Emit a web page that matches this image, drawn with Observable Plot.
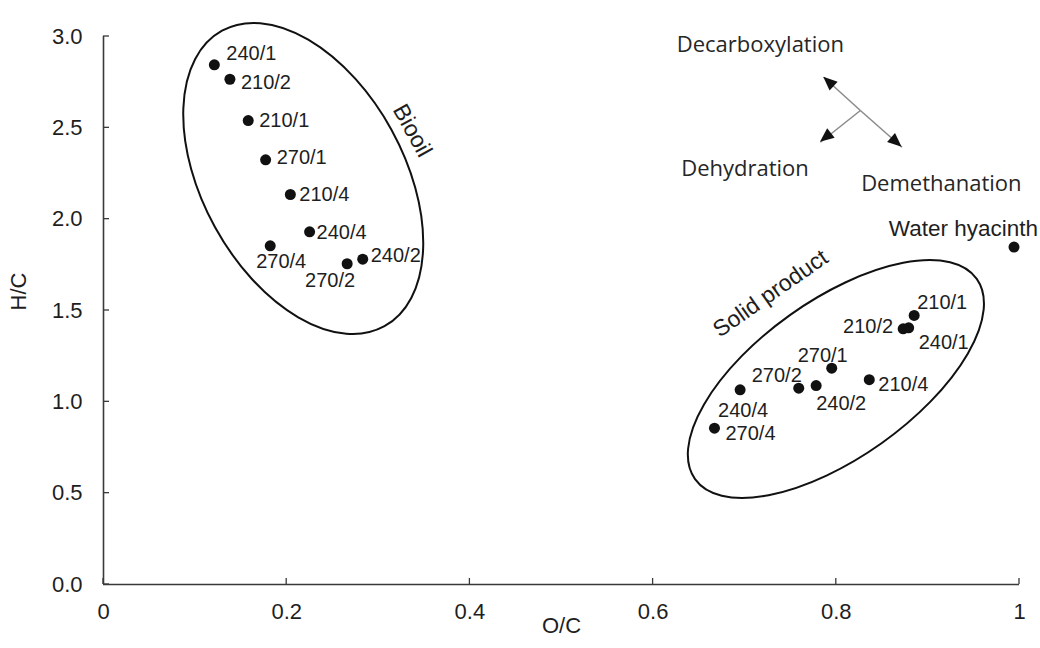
<!DOCTYPE html>
<html><head><meta charset="utf-8">
<script src="https://cdn.jsdelivr.net/npm/d3@7"></script>
<script src="https://cdn.jsdelivr.net/npm/@observablehq/plot@0.6"></script>
<style>body{margin:0;background:#fff} #chart svg{display:block}</style>
</head><body><div id="chart"></div>
<script>
// ---------------- data ----------------
const biooilLabels = ["240/1","210/2","210/1","270/1","210/4","240/4","270/4","270/2","240/2"];
const biooilOC = [0.121,0.138,0.158,0.177,0.204,0.225,0.182,0.266,0.283];
const biooilHC = [2.845,2.766,2.540,2.325,2.135,1.931,1.854,1.756,1.781];

const solidLabels = ["210/1","210/2","240/1","270/1","270/2","240/2","210/4","240/4","270/4"];
const solidOC = [0.885,0.873,0.879,0.795,0.759,0.778,0.836,0.695,0.667];
const solidHC = [1.473,1.400,1.405,1.184,1.075,1.089,1.121,1.066,0.856];

const feedLabels = ["Water hyacinth"];
const feedOC = [0.994];
const feedHC = [1.847];

const xTicks = [0,0.2,0.4,0.6,0.8,1];
const xTickLabels = ["0","0.2","0.4","0.6","0.8","1"];
const yTicks = [0,0.5,1,1.5,2,2.5,3];
const yTickLabels = ["0.0","0.5","1.0","1.5","2.0","2.5","3.0"];
const xTitle = "O/C";
const yTitle = "H/C";

const groupNames = ["Biooil","Solid product"];
const groupCenterOC = [0.2186, 0.8001];
const groupCenterHC = [2.220, 1.122];

const pathwayNames = ["Decarboxylation","Demethanation","Dehydration"];
const pathwayOriginOC = 0.8263, pathwayOriginHC = 2.595;
const pathwayTipOC = [0.7863, 0.8718, 0.7827];
const pathwayTipHC = [2.777, 2.394, 2.421];

// ---------------- layout / styling ----------------
const groupLabelAt = {"Biooil": {x: 0.3372, y: 2.485}, "Solid product": {x: 0.7281, y: 1.593}};
const groupShape = {"Biooil": {rx: 168.6, ry: 100.8, rot: 61.2}, "Solid product": {rx: 172.8, ry: 78.8, rot: -35.4}};
const pathwayLabelAt = {"Decarboxylation": {x: 0.7171, y: 2.951}, "Demethanation": {x: 0.9147, y: 2.195}, "Dehydration": {x: 0.7003, y: 2.277}};
const nudge = {
  "b240/1": [12,-11,"start"], "b210/2": [11,3,"start"], "b210/1": [11,0,"start"], "b270/1": [11,-2,"start"],
  "b210/4": [9,0,"start"], "b240/4": [7,1,"start"], "b270/4": [11,16,"middle"], "b270/2": [-17,17,"middle"],
  "b240/2": [8,-4,"start"],
  "s210/1": [3,-13,"start"], "s210/2": [-10,-2,"end"], "s240/1": [10,15,"start"], "s270/1": [-9,-13,"middle"],
  "s270/2": [-22,-13,"middle"], "s240/2": [0,18,"start"], "s210/4": [9,5,"start"], "s240/4": [-22,21,"start"],
  "s270/4": [11,5,"start"], "fWater hyacinth": [24,-18,"end"]
};

const biooil = biooilLabels.map((l,i) => ({key: "b"+l, label: l, x: biooilOC[i], y: biooilHC[i]}));
const solid = solidLabels.map((l,i) => ({key: "s"+l, label: l, x: solidOC[i], y: solidHC[i]}));
const feed = feedLabels.map((l,i) => ({key: "f"+l, label: l, x: feedOC[i], y: feedHC[i]}));
const points = [...biooil, ...solid, ...feed];
const groups = groupNames.map((n,i) => ({name: n, x: groupCenterOC[i], y: groupCenterHC[i]}));
const pathways = pathwayNames.map((n,i) => ({name: n, x1: pathwayOriginOC, y1: pathwayOriginHC, x2: pathwayTipOC[i], y2: pathwayTipHC[i]}));

const AXIS = "#3a3a3a";
const TEXT = "#1e1e1e";

const labelMarks = points.map(d => {
  const [dx, dy, anchor] = nudge[d.key];
  return Plot.text([d], {x: "x", y: "y", text: "label", dx, dy, textAnchor: anchor, fontSize: d.key[0] === "f" ? 22.5 : 20, fill: TEXT});
});

// custom marks using Plot's scales
const ellipseMark = (index, scales) => {
  const g = d3.create("svg:g");
  for (const d of groups) {
    const s = groupShape[d.name];
    const cx = scales.x(d.x), cy = scales.y(d.y);
    g.append("ellipse").attr("cx", cx).attr("cy", cy).attr("rx", s.rx).attr("ry", s.ry)
      .attr("transform", `rotate(${s.rot},${cx},${cy})`)
      .attr("fill", "none").attr("stroke", "#111").attr("stroke-width", 2);
  }
  return g.node();
};
const headMark = (index, scales) => {
  const g = d3.create("svg:g");
  const L = 14, W = 12;
  for (const d of pathways) {
    const ox = scales.x(d.x1), oy = scales.y(d.y1), tx = scales.x(d.x2), ty = scales.y(d.y2);
    const len = Math.hypot(tx - ox, ty - oy), ux = (tx - ox) / len, uy = (ty - oy) / len;
    const bx = tx - ux * L, by = ty - uy * L, nx = -uy, ny = ux;
    g.append("path").attr("d", `M${tx},${ty}L${bx + nx*W/2},${by + ny*W/2}L${bx - nx*W/2},${by - ny*W/2}Z`).attr("fill", "#111");
  }
  return g.node();
};
const tickMark = (index, scales) => {
  const g = d3.create("svg:g").attr("stroke", AXIS).attr("stroke-width", 1.3);
  const x0 = scales.x(0), y0 = scales.y(0);
  for (const t of yTicks) g.append("line").attr("x1", x0).attr("x2", x0 + 6).attr("y1", scales.y(t)).attr("y2", scales.y(t));
  for (const t of xTicks) g.append("line").attr("y1", y0).attr("y2", y0 - 6).attr("x1", scales.x(t)).attr("x2", scales.x(t));
  return g.node();
};

const chart = Plot.plot({
  width: 1040, height: 648,
  marginLeft: 103, marginRight: 21, marginTop: 36, marginBottom: 64,
  x: {domain: [0, 1], label: null, axis: null},
  y: {domain: [0, 3], label: null, axis: null},
  style: {fontFamily: "'Liberation Sans', Arial, sans-serif", fontSize: "22px", color: TEXT, background: "white"},
  marks: [
    Plot.ruleY([0], {stroke: AXIS, strokeWidth: 1.6}),
    Plot.ruleX([0], {stroke: AXIS, strokeWidth: 1.6}),
    tickMark,
    Plot.axisX(xTicks, {tickSize: 0, tickPadding: 19, tickFormat: d => xTickLabels[xTicks.indexOf(d)], fontSize: 22, label: null, fill: TEXT}),
    Plot.axisY(yTicks, {tickSize: 0, tickPadding: 21, tickFormat: d => yTickLabels[yTicks.indexOf(d)], fontSize: 22, label: null, fill: TEXT}),
    Plot.text([xTitle], {frameAnchor: "bottom", dy: 48, text: d => d, fontSize: 22, fill: TEXT}),
    Plot.text([yTitle], {frameAnchor: "left", dx: -85, rotate: -90, text: d => d, fontSize: 22, fill: TEXT}),
    ellipseMark,
    Plot.text(groups, {x: d => groupLabelAt[d.name].x, y: d => groupLabelAt[d.name].y, text: "name", rotate: 61, filter: d => d.name === "Biooil", fontSize: 23, fill: TEXT}),
    Plot.text(groups, {x: d => groupLabelAt[d.name].x, y: d => groupLabelAt[d.name].y, text: "name", rotate: -35, filter: d => d.name === "Solid product", fontSize: 23, fill: TEXT}),
    Plot.link(pathways, {x1: "x1", y1: "y1", x2: "x2", y2: "y2", stroke: "#8a8a8a", strokeWidth: 1.5}),
    headMark,
    Plot.text(pathways, {x: d => pathwayLabelAt[d.name].x, y: d => pathwayLabelAt[d.name].y, text: "name", fontFamily: "'Open Sans', sans-serif", fontSize: 22, fill: "#262626"}),
    Plot.dot(points, {x: "x", y: "y", r: 5.5, fill: "#111", stroke: "none"}),
    ...labelMarks
  ]
});
document.getElementById("chart").append(chart);
</script>
</body></html>
